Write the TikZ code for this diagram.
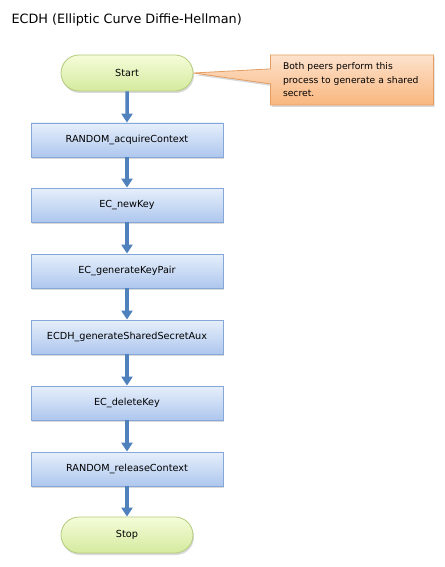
\documentclass[tikz,border=0pt]{standalone}
\usepackage{fontspec}
\setmainfont{DejaVu Sans}
\usetikzlibrary{shapes.misc,shapes.callouts,shadows,arrows.meta}
\definecolor{arrowblue}{HTML}{4F81BD}
\definecolor{boxtop}{HTML}{E6EFFB}
\definecolor{boxbot}{HTML}{AEC7EE}
\definecolor{boxline}{HTML}{86A8D8}
\definecolor{termtop}{HTML}{F4FCD9}
\definecolor{termbot}{HTML}{D5EA9E}
\definecolor{termline}{HTML}{B4CB7C}
\definecolor{notetop}{HTML}{FDE2CC}
\definecolor{notebot}{HTML}{F9B67E}
\definecolor{noteline}{HTML}{E49D63}
\tikzset{
  shd/.style={drop shadow={shadow xshift=1pt,shadow yshift=-2pt,opacity=0.25,fill=black!60}},
  procbox/.style={rectangle,draw=boxline,line width=0.8pt,top color=boxtop,bottom color=boxbot,
    minimum width=192pt,minimum height=34pt,inner sep=0pt,font=\fontsize{9.7}{11}\selectfont,shd},
  termbox/.style={rounded rectangle,draw=termline,line width=0.8pt,top color=termtop,bottom color=termbot,
    minimum width=132pt,minimum height=36pt,inner sep=0pt,font=\fontsize{9.7}{11}\selectfont,shd},
  flow/.style={draw=arrowblue,line width=3.5pt,-{Triangle[width=11pt,length=9pt]}}
}
\begin{document}
\begin{tikzpicture}[x=1pt,y=-1pt]
\useasboundingbox (0,0) rectangle (444,567);
\node[anchor=west,font=\fontsize{12.8}{15}\selectfont] (title) at (8,20) {ECDH (Elliptic Curve Diffie-Hellman)};
\node[termbox] (start) at (127,73) {Start};
\node[procbox] (b1) at (127,140) {RANDOM\_acquireContext};
\node[procbox] (b2) at (127,205) {EC\_newKey};
\node[procbox] (b3) at (127,271) {EC\_generateKeyPair};
\node[procbox] (b4) at (127,337) {ECDH\_generateSharedSecretAux};
\node[procbox] (b5) at (127,403) {EC\_deleteKey};
\node[procbox] (b6) at (127,469) {RANDOM\_releaseContext};
\node[termbox] (stop) at (127,535) {Stop};
\node[rectangle callout,callout absolute pointer={(start.east)},callout pointer width=15pt,
  draw=noteline,line width=0.8pt,top color=notetop,bottom color=notebot,
  minimum width=163pt,minimum height=50pt,text width=138pt,align=left,inner sep=0pt,
  font=\fontsize{9.2}{13.5}\selectfont,shd] (note) at (352,80)
  {Both peers perform this\\process to generate a shared\\secret.};
\draw[flow] (start) -- (b1);
\draw[flow] (b1) -- (b2);
\draw[flow] (b2) -- (b3);
\draw[flow] (b3) -- (b4);
\draw[flow] (b4) -- (b5);
\draw[flow] (b5) -- (b6);
\draw[flow] (b6) -- (stop);
\end{tikzpicture}
\end{document}
